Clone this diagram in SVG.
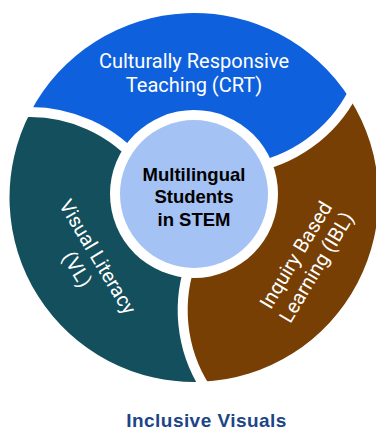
<svg xmlns="http://www.w3.org/2000/svg" width="376" height="430" viewBox="0 0 376 430">
  <style>
    .ring-label { font-family: Roboto, "Liberation Sans", sans-serif; font-size: 20px; fill: #ffffff; text-anchor: middle; }
    .hub-label { font-family: "Liberation Sans", Arial, sans-serif; font-size: 18.5px; font-weight: bold; fill: #000000; text-anchor: middle; }
    .caption { font-family: "Liberation Sans", Arial, sans-serif; font-size: 19px; font-weight: bold; fill: #1C4587; text-anchor: middle; }
    .gap { fill: none; stroke: #ffffff; stroke-width: 10; }
  </style>
  <defs>
    <!-- one third of the ring (top position); the other two are rotated copies about the ring centre -->
    <path id="seg" d="M194 197.5 L142.7 166.4 A144 144 0 0 0 30.5 112.0 A184.5 184.5 0 0 1 349.8 98.7 A144 144 0 0 1 246.6 168.6 Z"/>
    <!-- curved white separator between two segments -->
    <path id="sep" d="M142.7 166.4 A144 144 0 0 0 23.1 112.2"/>
  </defs>

  <rect width="376" height="430" fill="#ffffff"/>

  <g id="crt">
    <use href="#seg" fill="#0F60DC"/>
    <text class="ring-label" x="194" y="68">Culturally Responsive</text>
    <text class="ring-label" x="194" y="92">Teaching (CRT)</text>
  </g>

  <g id="vl">
    <use href="#seg" fill="#134F5C" transform="rotate(-120 194 197.5)"/>
    <g transform="translate(87.5 263) rotate(59)">
      <text class="ring-label" x="0" y="-5">Visual Literacy</text>
      <text class="ring-label" x="0" y="19">(VL)</text>
    </g>
  </g>

  <g id="ibl">
    <use href="#seg" fill="#783F04" transform="rotate(120 194 197.5)"/>
    <g transform="translate(306 261) rotate(-59)">
      <text class="ring-label" x="0" y="-5">Inquiry Based</text>
      <text class="ring-label" x="0" y="19">Learning (IBL)</text>
    </g>
  </g>

  <g id="separators">
    <use href="#sep" class="gap"/>
    <use href="#sep" class="gap" transform="rotate(120 194 197.5)"/>
    <use href="#sep" class="gap" transform="rotate(240 194 197.5)"/>
  </g>

  <g id="hub">
    <circle cx="194" cy="194" r="84" fill="#ffffff"/>
    <circle cx="194" cy="194" r="74" fill="#A4C2F4"/>
    <text class="hub-label" x="194" y="181">Multilingual</text>
    <text class="hub-label" x="194" y="203.3">Students</text>
    <text class="hub-label" x="194" y="225.7">in STEM</text>
  </g>

  <g id="caption">
    <text class="caption" x="206.3" y="427" textLength="160" lengthAdjust="spacing">Inclusive Visuals</text>
  </g>
</svg>
